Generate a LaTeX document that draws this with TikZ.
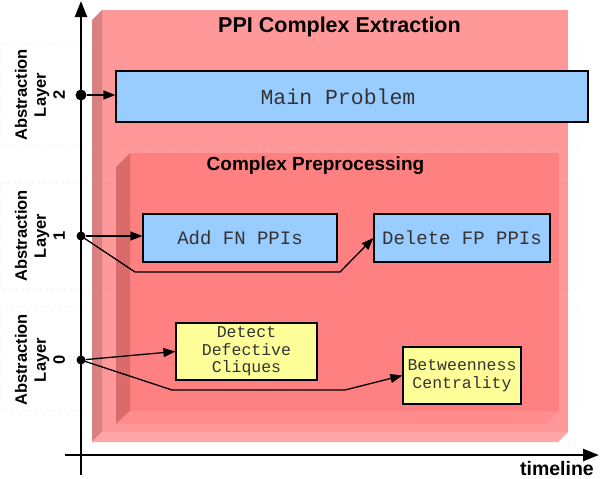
\documentclass[tikz,border=0pt]{standalone}
\usepackage{fontspec}
\setmainfont{Liberation Sans}
\setmonofont{Liberation Mono}
\usetikzlibrary{arrows.meta}

\definecolor{outerface}{HTML}{FF9999}
\definecolor{outerside}{HTML}{D98080}
\definecolor{outerbottom}{HTML}{FFA6A6}
\definecolor{innerface}{HTML}{FF8080}
\definecolor{innerside}{HTML}{D96B6B}
\definecolor{innerbottom}{HTML}{FF8C8C}
\definecolor{taskblue}{HTML}{99CCFF}
\definecolor{taskyellow}{HTML}{FFFF99}

\begin{document}
\begin{tikzpicture}[x=1pt, y=-1pt,
    bluetask/.style={draw, line width=1.2pt, fill=taskblue, text=black!80, inner sep=0pt,
        font=\ttfamily\fontsize{19}{22}\selectfont},
    yellowtask/.style={draw, line width=1.2pt, fill=taskyellow, text=black!80, inner sep=0pt,
        align=center, font=\ttfamily\fontsize{16.5}{17.5}\selectfont},
    layerlabel/.style={rotate=90, align=center, font=\bfseries\fontsize{16.5}{19}\selectfont},
    boxtitle/.style={font=\bfseries\fontsize{#1}{#1}\selectfont},
    axis/.style={line width=2.4pt, -{Triangle[length=16pt,width=12pt]}},
    link/.style={line width=1.3pt, -{Triangle[length=12pt,width=9pt]}},
    dot/.style={circle, fill, inner sep=0pt, minimum size=#1}
]
      \useasboundingbox (0,0) rectangle (600,479);

      % Outer box (front face, left side, bottom side)
      \fill[outerface] (102,10) rectangle (568,432);
      \fill[outerside] (92,20) -- (102,10) -- (102,432) -- (92,442) -- cycle;
      \fill[outerbottom] (92,442) -- (102,432) -- (568,432) -- (558,442) -- cycle;
      \node[boxtitle=21.5] (outertitle) at (339.5,27) {PPI Complex Extraction};

      % Inner box
      \fill[innerface] (130,153) rectangle (559,411);
      \fill[innerside] (116,167) -- (130,153) -- (130,411) -- (116,424) -- cycle;
      \fill[innerbottom] (116,424) -- (130,411) -- (559,411) -- (546,424) -- cycle;
      \node[boxtitle=19] (innertitle) at (315.5,166) {Complex Preprocessing};

      % Faint layer bands
      \foreach \top/\bot in {43/145, 183/288, 306/410} {
          \draw[gray, opacity=0.08, dashed] (0,\top) rectangle (578,\bot);
      }

      % Axes
      \coordinate (ybottom) at (81,475);
      \coordinate (ytop) at (81,1);
      \coordinate (xleft) at (65,455);
      \coordinate (xright) at (599,455);
      \draw[axis] (ybottom) -- (ytop);
      \draw[axis] (xleft) -- (xright);
      \node[boxtitle=19.5, anchor=east, inner sep=0pt] (timeline) at (594,469) {timeline};

      % Layer labels and dots on the axis
      \foreach \n/\y/\s in {2/95/11pt, 1/236/9pt, 0/360/9pt} {
          \node[layerlabel] (lab\n) at (40,\y) {Abstraction\\Layer\\\n};
          \node[dot=\s] (d\n) at (81,\y) {};
      }

      % Task boxes
      \node[bluetask, minimum width=472, minimum height=51,
            label={[xshift=-14pt, font=\ttfamily\fontsize{21.5}{24}\selectfont, text=black!80]center:Main Problem}]
            (main) at (352,96.5) {};
      \node[bluetask, minimum width=194, minimum height=48] (addfn) at (240,238) {Add FN PPIs};
      \node[bluetask, minimum width=176, minimum height=48] (delfp) at (462,238) {Delete FP PPIs};
      \node[yellowtask, minimum width=141, minimum height=57] (detect) at (246.5,351.5) {Detect\\Defective\\Cliques};
      \node[yellowtask, minimum width=118, minimum height=57] (between) at (462,375.5) {Betweenness\\Centrality};

      % Connectors
      \coordinate (b1) at (135,272);
      \coordinate (b2) at (340,272);
      \coordinate (c1) at (172,390);
      \coordinate (c2) at (345,390);
      \draw[link] (d2) -- (d2 -| main.west);
      \draw[link] (d1) -- (d1 -| addfn.west);
      \draw[link] (d1.center) -- (b1) -- (b2) -- (delfp.west);
      \draw[link] (d0) -- (detect.west);
      \draw[link] (d0.center) -- (c1) -- (c2) -- (between.west);

\end{tikzpicture}
\end{document}
